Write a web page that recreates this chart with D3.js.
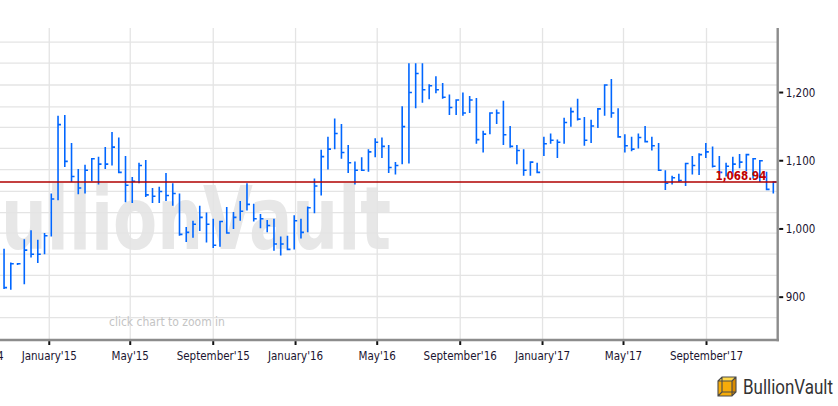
<!DOCTYPE html>
<html><head><meta charset="utf-8">
<script src="https://cdn.jsdelivr.net/npm/d3@7"></script>
<style>body{margin:0;background:#fff;}svg{display:block;}</style>
</head><body><svg id="chart" width="838" height="406"></svg>
<script>
// ---------- data (gold price per oz, 10-day HLC bars) ----------
const dates = ["2014-10-26","2014-11-05","2014-11-15","2014-11-25","2014-12-05","2014-12-15","2014-12-25",
"2015-01-04","2015-01-14","2015-01-24","2015-02-03","2015-02-13","2015-02-23","2015-03-05","2015-03-15","2015-03-25","2015-04-04","2015-04-14","2015-04-24","2015-05-04","2015-05-14","2015-05-24","2015-06-03","2015-06-13","2015-06-23","2015-07-03","2015-07-13","2015-07-23","2015-08-02","2015-08-12","2015-08-22","2015-09-01","2015-09-11","2015-09-21","2015-10-01","2015-10-11","2015-10-21","2015-10-31","2015-11-10","2015-11-20","2015-11-30","2015-12-10","2015-12-20","2015-12-30",
"2016-01-09","2016-01-19","2016-01-29","2016-02-08","2016-02-18","2016-02-28","2016-03-09","2016-03-19","2016-03-29","2016-04-08","2016-04-18","2016-04-28","2016-05-08","2016-05-18","2016-05-28","2016-06-07","2016-06-17","2016-06-27","2016-07-07","2016-07-17","2016-07-27","2016-08-06","2016-08-16","2016-08-26","2016-09-05","2016-09-15","2016-09-25","2016-10-05","2016-10-15","2016-10-25","2016-11-04","2016-11-14","2016-11-24","2016-12-04","2016-12-14","2016-12-24",
"2017-01-03","2017-01-13","2017-01-23","2017-02-02","2017-02-12","2017-02-22","2017-03-04","2017-03-14","2017-03-24","2017-04-03","2017-04-13","2017-04-23","2017-05-03","2017-05-13","2017-05-23","2017-06-02","2017-06-12","2017-06-22","2017-07-02","2017-07-12","2017-07-22","2017-08-01","2017-08-11","2017-08-21","2017-08-31","2017-09-10","2017-09-20","2017-09-30","2017-10-10","2017-10-20","2017-10-30","2017-11-09","2017-11-19","2017-11-29","2017-12-09"];

const high = [971,951,950,985,998,984,994,
1052,1166,1167,1126,1088,1094,1104,1106,1120,1142,1134,1107,1076,1097,1101,1060,1062,1082,1067,1052,1003,1012,1034,1024,1015,1012,1032,1025,1041,1067,1037,1022,1013,1015,989,990,1020,
1015,1033,1074,1116,1135,1162,1154,1123,1099,1105,1117,1133,1134,1123,1098,1180,1243,1243,1243,1212,1224,1214,1197,1190,1200,1195,1192,1144,1170,1175,1188,1151,1123,1117,1098,1097,
1135,1140,1131,1163,1178,1191,1164,1160,1176,1212,1220,1177,1139,1135,1140,1151,1135,1126,1086,1078,1081,1097,1107,1111,1126,1121,1107,1097,1106,1110,1110,1104,1101,1084,1070];

const low = [912,911,947,919,958,950,963,
989,1042,1091,1069,1051,1052,1070,1065,1088,1093,1082,1039,1038,1067,1047,1038,1038,1041,1034,990,981,987,997,980,972,974,994,1000,1012,1027,1011,1001,995,968,961,970,970,
986,995,1023,1049,1087,1117,1103,1082,1065,1085,1084,1105,1104,1082,1080,1095,1096,1177,1185,1190,1199,1191,1167,1167,1166,1170,1125,1112,1139,1154,1123,1119,1095,1078,1078,1082,
1107,1125,1104,1125,1150,1159,1122,1126,1148,1166,1163,1135,1112,1114,1118,1127,1115,1086,1057,1065,1069,1063,1080,1079,1104,1090,1081,1077,1077,1089,1085,1074,1069,1057,1052];

const close = [914,949,949,969,963,963,990,
1044,1153,1099,1077,1060,1086,1103,1095,1095,1120,1083,1064,1070,1093,1050,1048,1055,1049,1052,992,995,1007,1017,1007,976,1011,994,1017,1026,1036,1015,1015,1005,978,978,970,1012,
995,1031,1063,1106,1117,1140,1112,1097,1086,1086,1113,1127,1121,1090,1093,1150,1200,1228,1204,1210,1204,1193,1178,1189,1170,1189,1131,1139,1170,1170,1138,1121,1115,1086,1098,1083,
1125,1130,1127,1156,1172,1161,1130,1151,1176,1211,1170,1135,1122,1117,1134,1128,1122,1086,1067,1075,1071,1096,1093,1109,1113,1092,1083,1092,1095,1098,1109,1103,1100,1058,1068.94];

const xTickDates  = ["2014-09-01","2015-01-01","2015-05-01","2015-09-01","2016-01-01","2016-05-01","2016-09-01","2017-01-01","2017-05-01","2017-09-01"];
const xTickLabels = ["September'14","January'15","May'15","September'15","January'16","May'16","September'16","January'17","May'17","September'17"];
const yTickValues = [900,1000,1100,1200];
const gridValues  = [870,901,932,963,994,1024,1055,1087,1118,1149,1179,1211,1243,1274];
const lastPrice   = 1068.94;
const xDomain = ["2014-10-20T00:00:00Z","2017-12-15T12:00:00Z"];
const yDomain = [837.2,1294.6];

// ---------- layout ----------
const L = 0, R = 777.7, T = 28, B = 340;
const FONT = "'DejaVu Sans Condensed','DejaVu Sans',sans-serif";
const svg = d3.select("#chart");
const x = d3.scaleUtc().domain(xDomain.map(d => new Date(d))).range([L, R]);
const y = d3.scaleLinear().domain(yDomain).range([B, T]);

svg.append("defs").append("clipPath").attr("id","plot")
  .append("rect").attr("x",L).attr("y",T).attr("width",R-L).attr("height",B-T);

// watermark
svg.append("text").attr("x",-48).attr("y",249)
  .attr("font-family",FONT).attr("font-weight","bold").attr("font-size",88)
  .attr("textLength",439).attr("lengthAdjust","spacingAndGlyphs")
  .attr("fill","#e7e7e7").text("BullionVault");

// grid
const grid = svg.append("g").attr("stroke","#e4e4e4").attr("stroke-width",1.3);
grid.selectAll("line.h").data(gridValues).join("line").attr("class","h")
  .attr("x1",L).attr("x2",R).attr("y1",d=>y(d)).attr("y2",d=>y(d));
grid.selectAll("line.v").data(xTickDates.map(d=>new Date(d)).filter(d=>x(d)>=L)).join("line").attr("class","v")
  .attr("x1",d=>x(d)).attr("x2",d=>x(d)).attr("y1",T).attr("y2",B);

// click hint
svg.append("text").attr("x",109).attr("y",325.5).attr("font-family",FONT)
  .attr("font-size",12).attr("fill","#c4c4c4").text("click chart to zoom in");

// bars
const bars = dates.map((d,i)=>({date:new Date(d+"T00:00:00Z"),h:high[i],l:low[i],c:close[i]}));
svg.append("g").attr("clip-path","url(#plot)")
  .selectAll("path").data(bars).join("path")
  .attr("fill","none").attr("stroke","#0066ff").attr("stroke-width",1.6)
  .attr("d",d=>{const px=x(d.date);return `M${px},${y(d.h)}V${y(d.l)}M${px-0.8},${y(d.c)}H${px+3}`;});

// last price line & label
svg.append("line").attr("x1",L).attr("x2",R).attr("y1",y(lastPrice)).attr("y2",y(lastPrice))
  .attr("stroke","#b00000").attr("stroke-width",1.4);
svg.append("text").attr("x",766.5).attr("y",y(lastPrice)-2).attr("text-anchor","end")
  .attr("font-family",FONT).attr("font-weight","bold").attr("font-size",11.5)
  .attr("fill","#c00000").text(d3.format(",.2f")(lastPrice));

// axes lines
svg.append("line").attr("x1",L).attr("x2",R+1.3).attr("y1",B).attr("y2",B).attr("stroke","#8c8c8c").attr("stroke-width",2.4);
svg.append("line").attr("x1",R).attr("x2",R).attr("y1",T).attr("y2",B+1.2).attr("stroke","#8c8c8c").attr("stroke-width",2.4);

// y ticks
const yt = svg.append("g");
yt.selectAll("line").data(yTickValues).join("line")
  .attr("x1",R+1.5).attr("x2",R+5.5).attr("y1",d=>y(d)).attr("y2",d=>y(d))
  .attr("stroke","#111").attr("stroke-width",2);
yt.selectAll("text").data(yTickValues).join("text")
  .attr("x",R+8).attr("y",d=>y(d)+4.3).attr("font-family",FONT).attr("font-size",11.5)
  .attr("fill","#1a1430").text(d=>d3.format(",")(d));

// x ticks
const xt = svg.append("g");
const xtData = xTickDates.map((d,i)=>({date:new Date(d),label:xTickLabels[i]}));
xt.selectAll("line").data(xtData.filter(d=>x(d.date)>=L)).join("line")
  .attr("x1",d=>x(d.date)).attr("x2",d=>x(d.date)).attr("y1",B+1.2).attr("y2",B+5)
  .attr("stroke","#111").attr("stroke-width",2);
xt.selectAll("text").data(xtData).join("text")
  .attr("x",d=>x(d.date)).attr("y",359.5).attr("text-anchor","middle")
  .attr("font-family",FONT).attr("font-size",11.5).attr("fill","#1a1430").text(d=>d.label);

// logo
const logo = svg.append("g");
logo.append("polygon").attr("points","718,381 722,377 736,377 732,381").attr("fill","#ffd84a");
logo.append("polygon").attr("points","732,381 736,377 736,392 732,396").attr("fill","#d98b00");
logo.append("rect").attr("x",718).attr("y",381).attr("width",14).attr("height",15).attr("fill","#f6ac0a");
logo.append("path").attr("d","M718,381L722,377H736V392L732,396H718ZM718,381H732V396M732,381L736,377M722,377V392H736M722,392L718,396")
  .attr("fill","none").attr("stroke","#4a4a4a").attr("stroke-width",1.1);
logo.append("text").attr("x",743).attr("y",394).attr("font-family","Roboto,'DejaVu Sans',sans-serif")
  .attr("font-size",19.5).attr("textLength",90).attr("lengthAdjust","spacingAndGlyphs")
  .attr("fill","#333").text("BullionVault");
</script></body></html>
